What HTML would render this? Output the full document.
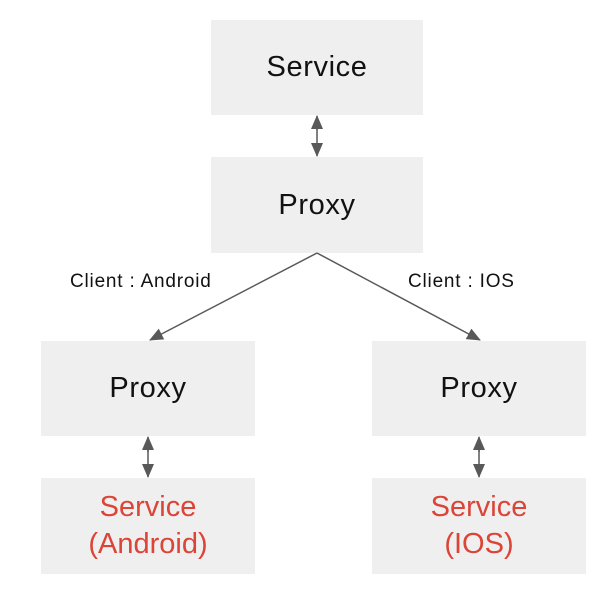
<!DOCTYPE html>
<html><head><style>
body{margin:0;width:608px;height:592px;background:#fff;position:relative;overflow:hidden;font-family:"Liberation Sans",sans-serif}
.b{position:absolute;background:#efefef;display:flex;align-items:center;justify-content:center;text-align:center;font-size:29px;letter-spacing:0.6px;color:#111;line-height:37px}
.r{color:#db4437;letter-spacing:0}
.l{position:absolute;font-size:19px;letter-spacing:0.8px;color:#111}
</style></head><body>
<div class="b" style="left:211px;top:20px;width:212px;height:95px">Service</div>
<div class="b" style="left:211px;top:157px;width:212px;height:96px">Proxy</div>
<div class="b" style="left:41px;top:341px;width:214px;height:95px">Proxy</div>
<div class="b" style="left:372px;top:341px;width:214px;height:95px">Proxy</div>
<div class="b r" style="left:41px;top:478px;width:214px;height:96px">Service<br>(Android)</div>
<div class="b r" style="left:372px;top:478px;width:214px;height:96px">Service<br>(IOS)</div>
<div class="l" style="left:70px;top:271px">Client : Android</div>
<div class="l" style="left:408px;top:271px">Client : IOS</div>
<svg width="608" height="592" style="position:absolute;left:0;top:0">
<defs><marker id="a" markerWidth="14" markerHeight="14" refX="13" refY="7" orient="auto" markerUnits="userSpaceOnUse"><path d="M0,1 L14,7 L0,13 z" fill="#595959"/></marker></defs>
<g stroke="#595959" stroke-width="1.5" fill="none">
<line x1="317" y1="130" x2="317" y2="116" marker-end="url(#a)"/>
<line x1="317" y1="140" x2="317" y2="156" marker-end="url(#a)"/>
<line x1="317" y1="125" x2="317" y2="140"/>
<line x1="148" y1="452" x2="148" y2="437" marker-end="url(#a)"/>
<line x1="148" y1="462" x2="148" y2="477" marker-end="url(#a)"/>
<line x1="148" y1="447" x2="148" y2="462"/>
<line x1="479" y1="452" x2="479" y2="437" marker-end="url(#a)"/>
<line x1="479" y1="462" x2="479" y2="477" marker-end="url(#a)"/>
<line x1="479" y1="447" x2="479" y2="462"/>
<line x1="317" y1="253" x2="150" y2="340" marker-end="url(#a)"/>
<line x1="317" y1="253" x2="480" y2="340" marker-end="url(#a)"/>
</g></svg>
</body></html>
